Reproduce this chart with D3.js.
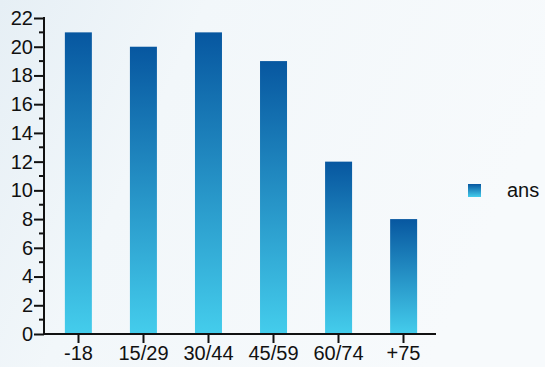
<!DOCTYPE html>
<html>
<head>
<meta charset="utf-8">
<script src="https://cdn.jsdelivr.net/npm/d3@7"></script>
<style>
  body { margin: 0; background: #f3f7fa; }
  text { font-family: "Liberation Sans", Arial, sans-serif; fill: #111; }
</style>
</head>
<body>
<div id="chart"></div>
<script>
// data
var categories = ["-18", "15/29", "30/44", "45/59", "60/74", "+75"];
var values = [21, 20, 21, 19, 12, 8];
var seriesName = "ans";
var yTicks = [0, 2, 4, 6, 8, 10, 12, 14, 16, 18, 20, 22];

var width = 545;
var height = 367;

var svg = d3.select('#chart')
    .append('svg')
    .attr('width', width)
    .attr('height', height);

var defs = svg.append('defs');

// soft background
var bg = defs.append('linearGradient')
    .attr('id', 'bg')
    .attr('x1', '0').attr('y1', '0')
    .attr('x2', '1').attr('y2', '0.3');
bg.append('stop').attr('offset', '0').attr('stop-color', '#e6eff5');
bg.append('stop').attr('offset', '0.35').attr('stop-color', '#f2f7fa');
bg.append('stop').attr('offset', '1').attr('stop-color', '#f7fafc');

var barGrad = defs.append('linearGradient')
    .attr('id', 'barGrad')
    .attr('x1', '0').attr('y1', '0')
    .attr('x2', '0').attr('y2', '1');
barGrad.append('stop').attr('offset', '0').attr('stop-color', '#0757a0');
barGrad.append('stop').attr('offset', '1').attr('stop-color', '#44cdec');

svg.append('rect')
    .attr('width', width)
    .attr('height', height)
    .attr('fill', 'url(#bg)');

var x = d3.scaleBand()
    .domain(categories)
    .range([46, 436])
    .paddingInner(0.585)
    .paddingOuter(0.29);

var y = d3.scaleLinear()
    .domain([0, 22])
    .range([334, 18]);

// bars
svg.selectAll('.bar')
    .data(values)
    .enter()
    .append('rect')
    .attr('class', 'bar')
    .attr('x', function (d, i) { return x(categories[i]); })
    .attr('y', function (d) { return y(d); })
    .attr('width', x.bandwidth())
    .attr('height', function (d) { return y(0) - y(d); })
    .attr('fill', 'url(#barGrad)');

// y axis
var yAxis = svg.append('g')
    .attr('transform', 'translate(44,0)')
    .call(d3.axisLeft(y).tickValues(yTicks).tickSize(10).tickPadding(1).tickSizeOuter(0));

// minor ticks
svg.append('g')
    .selectAll('line')
    .data(d3.range(1, 22, 2))
    .enter()
    .append('line')
    .attr('x1', 39)
    .attr('x2', 44)
    .attr('y1', function (d) { return y(d); })
    .attr('y2', function (d) { return y(d); })
    .attr('stroke', '#111')
    .attr('stroke-width', 2);

// x axis
var xAxisScale = d3.scaleBand().domain(categories).range([46, 436]);
var xAxis = svg.append('g')
    .attr('transform', 'translate(0,334)')
    .call(d3.axisBottom(xAxisScale).tickSize(9).tickPadding(3).tickSizeOuter(0));

[yAxis, xAxis].forEach(function (g) {
    g.selectAll('path, line').attr('stroke', '#111').attr('stroke-width', 2);
    g.selectAll('text').style('font-size', '20px').attr('fill', '#111');
});
yAxis.select('.domain').attr('d', 'M0,' + 17 + 'V' + 335);
xAxis.select('.domain').attr('d', 'M43,0H436');

// legend
var legend = svg.append('g').attr('transform', 'translate(468,184)');
legend.append('rect')
    .attr('width', 13)
    .attr('height', 13)
    .attr('fill', 'url(#barGrad)');
legend.append('text')
    .attr('x', 39)
    .attr('y', 13)
    .style('font-size', '20px')
    .text(seriesName);
</script>
</body>
</html>
